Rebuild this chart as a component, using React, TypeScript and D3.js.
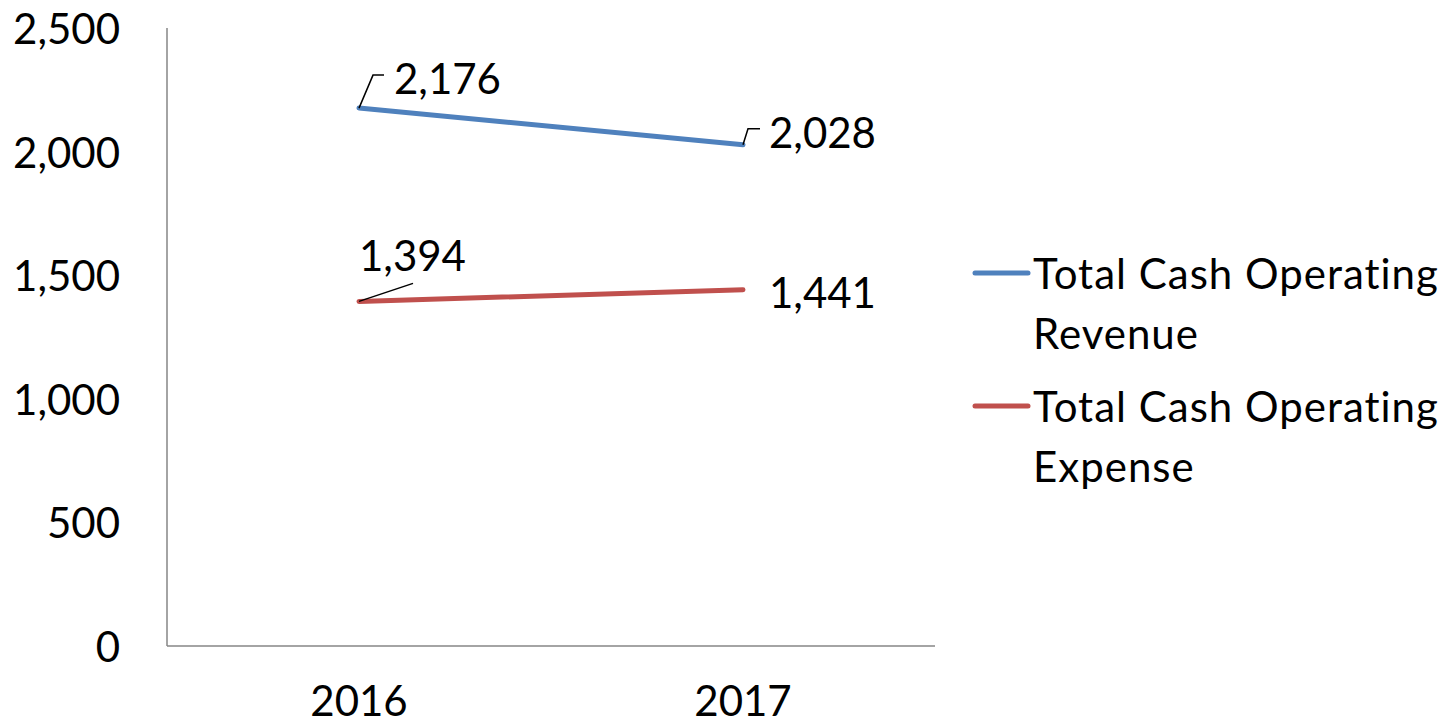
import React from "react";
import * as d3 from "d3";

const categories = ["2016", "2017"];
const revenue = [2176, 2028];
const expense = [1394, 1441];
const yTicks = [0, 500, 1000, 1500, 2000, 2500];
const seriesNames = [
  ["Total Cash Operating", "Revenue"],
  ["Total Cash Operating", "Expense"],
];

const W = 1447;
const H = 726;
const FONT = "Lato, 'Open Sans', sans-serif";
const FS = 42;

export default function App() {
  const x = d3.scalePoint<string>().domain(categories).range([167, 935]).padding(0.5);
  const y = d3.scaleLinear().domain([0, 2500]).range([646, 28]);
  const line = d3
    .line<number>()
    .x((_, i) => x(categories[i]) as number)
    .y((d) => y(d));
  const fmt = d3.format(",");
  const series = [
    { values: revenue, color: "#4F81BD", names: seriesNames[0] },
    { values: expense, color: "#C0504D", names: seriesNames[1] },
  ];

  // label placement relative to point (style, not data)
  const labelOffsets = [
    [
      { dx: 35, dy: -30, leader: [[0, 0], [14, -33], [25, -33]] },
      { dx: 26, dy: -13, leader: [[0, 0], [5, -16], [17, -16]] },
    ],
    [
      { dx: 0, dy: -46, leader: [[0, 0], [54, -18]] },
      { dx: 26, dy: 2, leader: null },
    ],
  ];

  return (
    <svg width={W} height={H} style={{ display: "block", position: "absolute", left: 0, top: 0 }}>
      <rect width={W} height={H} fill="#fff" />
      {/* axes */}
      <line x1={167} x2={167} y1={y(2500)} y2={y(0)} stroke="#868686" strokeWidth={1.5} />
      <line x1={167} x2={935} y1={y(0)} y2={y(0)} stroke="#868686" strokeWidth={1.5} />
      {yTicks.map((t) => (
        <text
          key={t}
          x={120}
          y={y(t)}
          textAnchor="end"
          dominantBaseline="central"
          fontFamily={FONT}
          fontSize={FS}
          fill="#000"
        >
          {fmt(t)}
        </text>
      ))}
      {categories.map((c) => (
        <text
          key={c}
          x={x(c)}
          y={716}
          textAnchor="middle"
          fontFamily={FONT}
          fontSize={FS}
          fill="#000"
        >
          {c}
        </text>
      ))}
      {series.map((s, si) => (
        <g key={si}>
          <path d={line(s.values) || ""} fill="none" stroke={s.color} strokeWidth={5} strokeLinecap="round" />
          {s.values.map((v, i) => {
            const px = x(categories[i]) as number;
            const py = y(v);
            const o = labelOffsets[si][i];
            return (
              <g key={i}>
                {o.leader && (
                  <polyline
                    points={o.leader.map((p) => `${px + p[0]},${py + p[1]}`).join(" ")}
                    fill="none"
                    stroke="#000"
                    strokeWidth={1.5}
                  />
                )}
                <text
                  x={px + o.dx}
                  y={py + o.dy}
                  dominantBaseline="central"
                  fontFamily={FONT}
                  fontSize={FS}
                  fill="#000"
                >
                  {fmt(v)}
                </text>
              </g>
            );
          })}
        </g>
      ))}
      {/* legend */}
      {series.map((s, si) => {
        const ly = 273 + si * 133;
        return (
          <g key={si}>
            <line x1={975} x2={1028} y1={ly} y2={ly} stroke={s.color} strokeWidth={5} strokeLinecap="round" />
            {s.names.map((n, k) => (
              <text
                key={k}
                x={1033}
                y={ly + k * 60}
                dominantBaseline="central"
                fontFamily={FONT}
                fontSize={FS}
                letterSpacing={1}
                fill="#000"
              >
                {n}
              </text>
            ))}
          </g>
        );
      })}
    </svg>
  );
}
